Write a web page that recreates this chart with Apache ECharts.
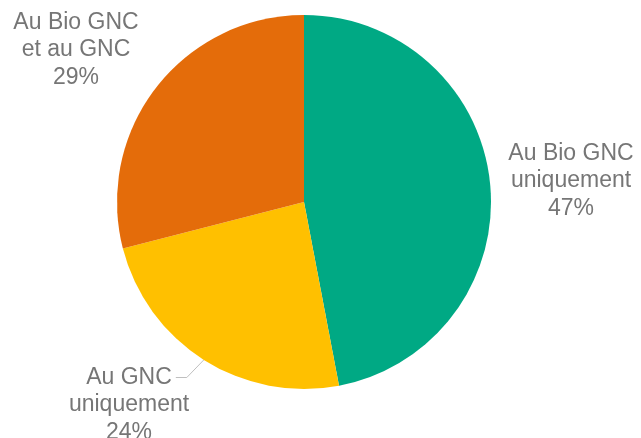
<!DOCTYPE html>
<html>
<head>
<meta charset="utf-8">
<script src="https://cdn.jsdelivr.net/npm/echarts@6/dist/echarts.min.js"></script>
<style>
html,body{margin:0;padding:0;background:#fff;}
#chart{width:641px;height:438px;}
</style>
</head>
<body>
<div id="chart"></div>
<script>
var categories = ['Au Bio GNC\nuniquement', 'Au GNC\nuniquement', 'Au Bio GNC\net au GNC'];
var values = [47, 24, 29];
var colors = ['#00A984', '#FFC000', '#E46C0A'];
var labelSpots = [[571, 181], [129, 405], [76, 50]];

var FONT = 'Liberation Sans, Arial, sans-serif';
var FS = 23, LH = 27.5;
var ctx = document.createElement('canvas').getContext('2d');
ctx.font = FS + 'px ' + FONT;

var chart = echarts.init(document.getElementById('chart'));
chart.setOption({
  animation: false,
  series: [{
    type: 'pie',
    center: [304, 202],
    radius: 187,
    startAngle: 90,
    clockwise: true,
    data: categories.map(function (c, i) {
      return {
        name: c, value: values[i],
        itemStyle: { color: colors[i] },
        labelLine: { show: i === 1 }
      };
    }),
    label: {
      show: true,
      formatter: '{b}\n{c}%',
      fontFamily: FONT,
      fontSize: FS,
      lineHeight: LH,
      color: '#767676',
      align: 'center',
      overflow: 'none',
      width: 200
    },
    labelLine: {
      lineStyle: { color: '#BFBFBF', width: 1 },
      length: 10, length2: 10
    },
    labelLayout: function (p) {
      var s = labelSpots[p.dataIndex];
      var res = { x: s[0], y: s[1], align: 'center', verticalAlign: 'middle' };
      if (p.dataIndex === 1 && p.labelLinePoints) {
        var first = categories[1].split('\n')[0];
        var w = ctx.measureText(first).width;
        var endX = s[0] + w / 2 + 4, endY = s[1] - LH;
        var start = p.labelLinePoints[0];
        res.labelLinePoints = [start, [endX + 11, endY], [endX, endY]];
      }
      return res;
    },
    itemStyle: { borderWidth: 0 },
    emphasis: { disabled: true }
  }]
});
</script>
</body>
</html>
